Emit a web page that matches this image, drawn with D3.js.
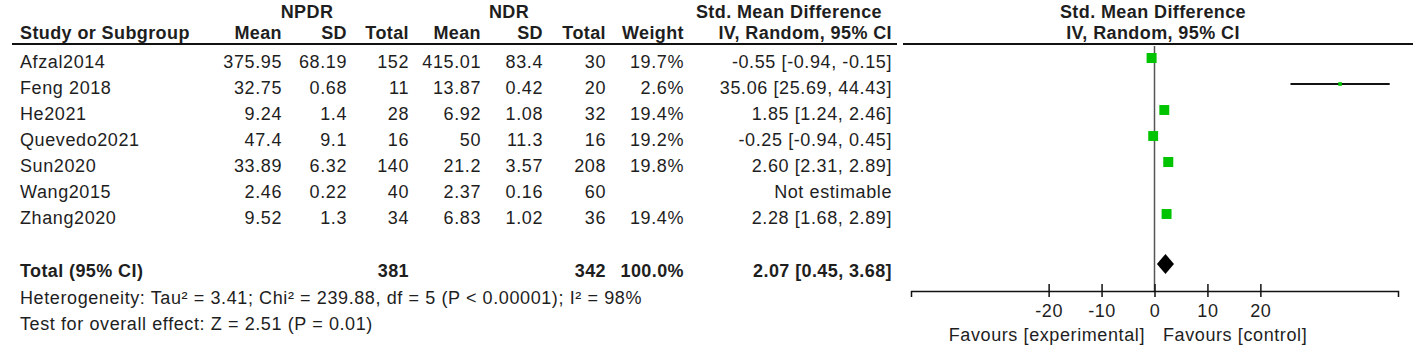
<!DOCTYPE html>
<html>
<head>
<meta charset="utf-8">
<script src="https://cdn.jsdelivr.net/npm/d3@7"></script>
<style>
  body { margin: 0; background: #fff; }
  text { font-family: "Liberation Sans", Arial, sans-serif; font-size: 18px; fill: #1e1e1e; letter-spacing: 0.6px; }
  .bold { font-weight: bold; letter-spacing: 0.4px; }
</style>
</head>
<body>
<div id="d3-container"></div>
<script>
/**
 * DATA
 * */
const studies = ["Afzal2014", "Feng 2018", "He2021", "Quevedo2021", "Sun2020", "Wang2015", "Zhang2020"];
const npdrMean = ["375.95", "32.75", "9.24", "47.4", "33.89", "2.46", "9.52"];
const npdrSD = ["68.19", "0.68", "1.4", "9.1", "6.32", "0.22", "1.3"];
const npdrTotal = [152, 11, 28, 16, 140, 40, 34];
const ndrMean = ["415.01", "13.87", "6.92", "50", "21.2", "2.37", "6.83"];
const ndrSD = ["83.4", "0.42", "1.08", "11.3", "3.57", "0.16", "1.02"];
const ndrTotal = [30, 20, 32, 16, 208, 60, 36];
const weights = [19.7, 2.6, 19.4, 19.2, 19.8, null, 19.4];
const smd = [-0.55, 35.06, 1.85, -0.25, 2.60, null, 2.28];
const ciLow = [-0.94, 25.69, 1.24, -0.94, 2.31, null, 1.68];
const ciHigh = [-0.15, 44.43, 2.46, 0.45, 2.89, null, 2.89];

const totalNPDR = 381, totalNDR = 342, totalWeight = 100.0;
const pooled = { est: 2.07, lo: 0.45, hi: 3.68 };
const tickValues = [-20, -10, 0, 10, 20];
const heterogeneityText = "Heterogeneity: Tau\u00b2 = 3.41; Chi\u00b2 = 239.88, df = 5 (P < 0.00001); I\u00b2 = 98%";
const overallText = "Test for overall effect: Z = 2.51 (P = 0.01)";

/**
 * CONSTANTS
 * */
const width = 1423, height = 352;
const rowTop = 68, rowStep = 26; // baseline of first study row
const green = "#00c400";

const fmt = v => v.toFixed(2); // keep plain hyphen minus
const ciLabel = (e, l, h) => `${fmt(e)} [${fmt(l)}, ${fmt(h)}]`;

const svg = d3.select("#d3-container")
  .append("svg")
  .attr("width", width)
  .attr("height", height);

// small helper for text
function label(x, y, txt, anchor = "start", cls = "") {
  return svg.append("text")
    .attr("x", x)
    .attr("y", y)
    .attr("text-anchor", anchor)
    .attr("class", cls)
    .text(txt);
}

// ---------- headers ----------
label(307, 18, "NPDR", "middle", "bold");
label(509, 18, "NDR", "middle", "bold");
label(789, 18, "Std. Mean Difference", "middle", "bold");
label(1153, 18, "Std. Mean Difference", "middle", "bold");

label(20, 39, "Study or Subgroup", "start", "bold");
[["Mean", 282], ["SD", 347], ["Total", 409], ["Mean", 481], ["SD", 543], ["Total", 606], ["Weight", 684]]
  .forEach(([t, x]) => label(x, 39, t, "end", "bold"));
label(892, 39, "IV, Random, 95% CI", "end", "bold");
label(1153, 39, "IV, Random, 95% CI", "middle", "bold");

svg.append("line").attr("x1", 12).attr("x2", 897).attr("y1", 44).attr("y2", 44)
  .attr("stroke", "#111").attr("stroke-width", 2);
svg.append("line").attr("x1", 903).attr("x2", 1413).attr("y1", 44).attr("y2", 44)
  .attr("stroke", "#111").attr("stroke-width", 2);

// ---------- table rows ----------
const rowY = d3.scaleLinear().domain([0, 1]).range([rowTop, rowTop + rowStep]);

const columns = [
  { arr: studies, x: 20, anchor: "start" },
  { arr: npdrMean, x: 282, anchor: "end" },
  { arr: npdrSD, x: 347, anchor: "end" },
  { arr: npdrTotal, x: 409, anchor: "end" },
  { arr: ndrMean, x: 481, anchor: "end" },
  { arr: ndrSD, x: 543, anchor: "end" },
  { arr: ndrTotal, x: 606, anchor: "end" },
  { arr: weights.map(w => w == null ? "" : w.toFixed(1) + "%"), x: 684, anchor: "end" },
  { arr: smd.map((e, i) => e == null ? "Not estimable" : ciLabel(e, ciLow[i], ciHigh[i])), x: 892, anchor: "end" }
];

columns.forEach(col => {
  svg.append("g")
    .selectAll("text")
    .data(col.arr)
    .join("text")
    .attr("x", col.x)
    .attr("y", (d, i) => rowY(i))
    .attr("text-anchor", col.anchor)
    .text(d => d);
});

// total row
const totalY = 277;
label(20, totalY, "Total (95% CI)", "start", "bold");
label(409, totalY, totalNPDR, "end", "bold");
label(606, totalY, totalNDR, "end", "bold");
label(684, totalY, totalWeight.toFixed(1) + "%", "end", "bold");
label(892, totalY, ciLabel(pooled.est, pooled.lo, pooled.hi), "end", "bold");

label(20, 304, heterogeneityText);
label(20, 330, overallText);

// ---------- forest plot ----------
const xScale = d3.scaleLinear().domain([-46, 46]).range([911, 1398]);
const axisY = 291;

// zero line
svg.append("line")
  .attr("x1", xScale(0)).attr("x2", xScale(0))
  .attr("y1", 46).attr("y2", axisY)
  .attr("stroke", "#555").attr("stroke-width", 1.5);

const plotData = studies.map((s, i) => ({ est: smd[i], lo: ciLow[i], hi: ciHigh[i], w: weights[i], i }))
  .filter(d => d.est != null);

// CI whiskers
svg.append("g")
  .selectAll("line")
  .data(plotData)
  .join("line")
  .attr("x1", d => xScale(d.lo))
  .attr("x2", d => xScale(d.hi))
  .attr("y1", d => rowY(d.i) - 10)
  .attr("y2", d => rowY(d.i) - 10)
  .attr("stroke", "#111")
  .attr("stroke-width", 2);

// weight squares (area ~ weight)
const side = d3.scaleSqrt().domain([0, 19.7]).range([0, 10]);
svg.append("g")
  .selectAll("rect")
  .data(plotData)
  .join("rect")
  .attr("x", d => xScale(d.est) - side(d.w) / 2)
  .attr("y", d => rowY(d.i) - 10 - side(d.w) / 2)
  .attr("width", d => side(d.w))
  .attr("height", d => side(d.w))
  .attr("fill", green);

// pooled diamond
const dY = 264, dH = 10;
svg.append("path")
  .attr("d", `M${xScale(pooled.lo)},${dY} L${xScale(pooled.est)},${dY - dH} L${xScale(pooled.hi)},${dY} L${xScale(pooled.est)},${dY + dH} Z`)
  .attr("fill", "#000");

// axis
const xAxis = d3.axisBottom(xScale).tickValues(tickValues).tickFormat(d => String(d)).tickSizeOuter(0).tickSize(6);
const gAxis = svg.append("g")
  .attr("transform", `translate(0,${axisY})`)
  .call(xAxis);
gAxis.select(".domain").attr("stroke", "#111").attr("stroke-width", 1.5);
gAxis.selectAll(".tick line").attr("y1", -7).attr("y2", 6).attr("stroke", "#111").attr("stroke-width", 1.5);
gAxis.attr("font-family", null).attr("font-size", null);
gAxis.selectAll(".tick text")
  .attr("y", 26).attr("dy", 0)
  .attr("fill", null);

label(1145, 341, "Favours [experimental]", "end");
label(1163, 341, "Favours [control]", "start");
</script>
</body>
</html>
